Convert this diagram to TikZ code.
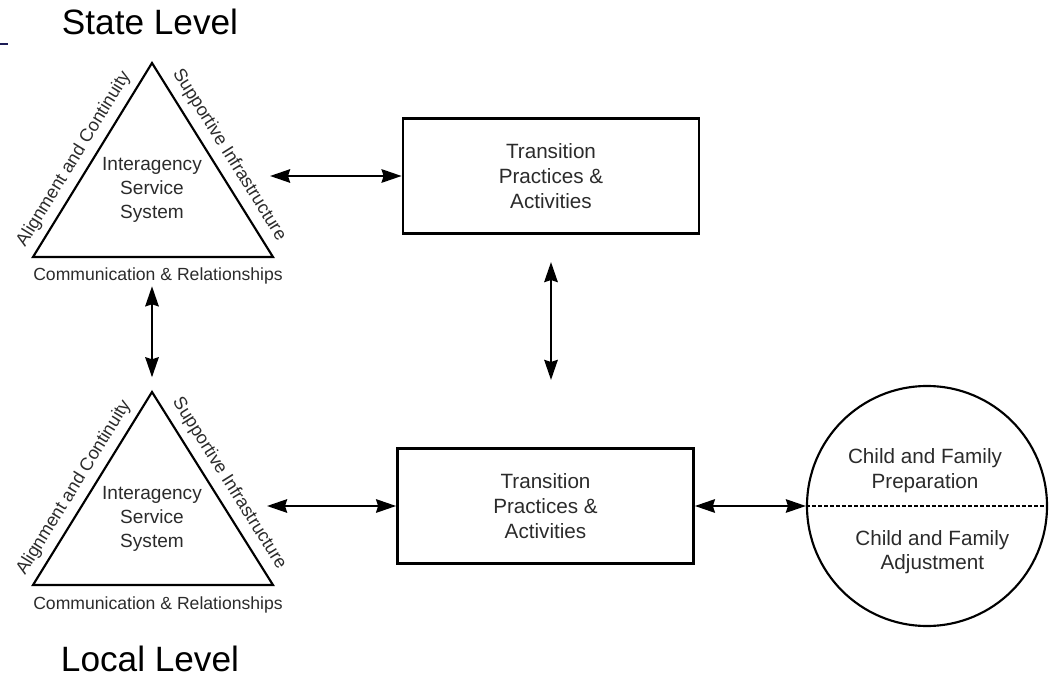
\documentclass[tikz,border=0pt]{standalone}
\usepackage{fontspec}
\setmainfont{Liberation Sans}
\usepackage{xcolor}
\definecolor{lineDark}{HTML}{000000}
\definecolor{textDark}{HTML}{2B2B2B}
\definecolor{slideNavy}{HTML}{1C1C55}
\usepackage{tikz}
\usetikzlibrary{positioning,calc,arrows.meta}
\tikzset{%
  practiceBox/.style={%
    rectangle,
    draw=lineDark,
    line width=2pt,
    minimum width=222pt,
    minimum height=86pt,
    align=center,
    text=textDark,
    font=\fontsize{15.5}{18.5}\selectfont
  },
  triangleEdge/.style={%
    draw=lineDark,
    line width=1.6pt,
    line join=miter
  },
  sideLabel/.style={%
    sloped,
    inner sep=1pt,
    text=textDark,
    font=\fontsize{13.6}{16}\selectfont
  },
  systemText/.style={%
    align=center,
    inner sep=1pt,
    text=textDark,
    font=\fontsize{14.3}{18.3}\selectfont
  },
  commLabel/.style={%
    inner sep=1pt,
    text=textDark,
    font=\fontsize{13.2}{16}\selectfont
  },
  levelTitle/.style={%
    inner sep=0pt,
    text=black,
    font=\fontsize{26.4}{31}\selectfont
  },
  childCircle/.style={%
    circle,
    draw=lineDark,
    line width=1.6pt,
    minimum size=180pt,
    inner sep=0pt
  },
  childText/.style={%
    align=center,
    inner sep=1pt,
    text=textDark,
    font=\fontsize{15.5}{18.5}\selectfont
  },
  dashLine/.style={%
    draw=lineDark,
    line width=1.6pt,
    dash pattern=on 3pt off 1.5pt
  },
  arrowLine/.style={%
    {Stealth[length=15pt,width=10pt,inset=1.5pt]}-{Stealth[length=15pt,width=10pt,inset=1.5pt]},
    line width=2pt,
    color=lineDark
  }
}

\begin{document}
\begin{tikzpicture}[x=0.75pt, y=-0.75pt]
  \path[use as bounding box] (0,0) rectangle (1052,677);

  % bit of the slide rule at the left edge
  \draw[slideNavy, line width=2.2pt] (0,44) -- (8,44);

  \node[levelTitle, anchor=base] (stateTitle) at (150,35) {State Level};
  \node[levelTitle, anchor=base] (localTitle) at (150,671) {Local Level};

  % state level system
  \coordinate (sLeft) at (33,257);
  \coordinate (sApex) at (152,63);
  \coordinate (sRight) at (273,257);
  \draw[triangleEdge] (sLeft)
    -- node[sideLabel, above=4pt, pos=0.46] (sAlign) {Alignment and Continuity} (sApex)
    -- node[sideLabel, above=4.5pt, pos=0.52] (sSupport) {Supportive Infrastructure} (sRight)
    -- cycle;
  \node[systemText] (sSystem) at (152,190) {Interagency\\Service\\System};
  \node[commLabel, anchor=base] (sComm) at (158,281) {Communication \& Relationships};

  % local level system
  \coordinate (lLeft) at (33,585);
  \coordinate (lApex) at (152,392);
  \coordinate (lRight) at (273,585);
  \draw[triangleEdge] (lLeft)
    -- node[sideLabel, above=4pt, pos=0.46] (lAlign) {Alignment and Continuity} (lApex)
    -- node[sideLabel, above=4.5pt, pos=0.52] (lSupport) {Supportive Infrastructure} (lRight)
    -- cycle;
  \node[systemText] (lSystem) at (152,519) {Interagency\\Service\\System};
  \node[commLabel, anchor=base] (lComm) at (158,609) {Communication \& Relationships};

  % practices
  \node[practiceBox] (stateBox) at (551,176) {Transition\\Practices \&\\Activities};
  \node[practiceBox] (localBox) at (545.5,506) {Transition\\Practices \&\\Activities};

  % child and family
  \node[childCircle] (childCircle) at (927,506) {};
  \draw[dashLine] (childCircle.west) -- (childCircle.east);
  \node[childText, above=9pt of childCircle.center, xshift=-1.5pt] (prepText) {Child and Family\\Preparation};
  \node[childText, below=17pt of childCircle.center, xshift=4pt] (adjustText) {Child and Family\\Adjustment};

  % free arrow ends
  \coordinate (sArrowEnd) at (270,176);
  \coordinate (lArrowEnd) at (267,506);
  \coordinate (midTop) at (551,262);
  \coordinate (midBot) at (551,380);

  \draw[arrowLine] (sArrowEnd) -- (stateBox.west);
  \draw[arrowLine] (lArrowEnd) -- (localBox.west);
  \draw[arrowLine] (sComm.south -| sApex) -- ([yshift=11pt]lApex);
  \draw[arrowLine] (midTop) -- (midBot);
  \draw[arrowLine] (localBox.east) -- (childCircle.west);
\end{tikzpicture}
\end{document}
